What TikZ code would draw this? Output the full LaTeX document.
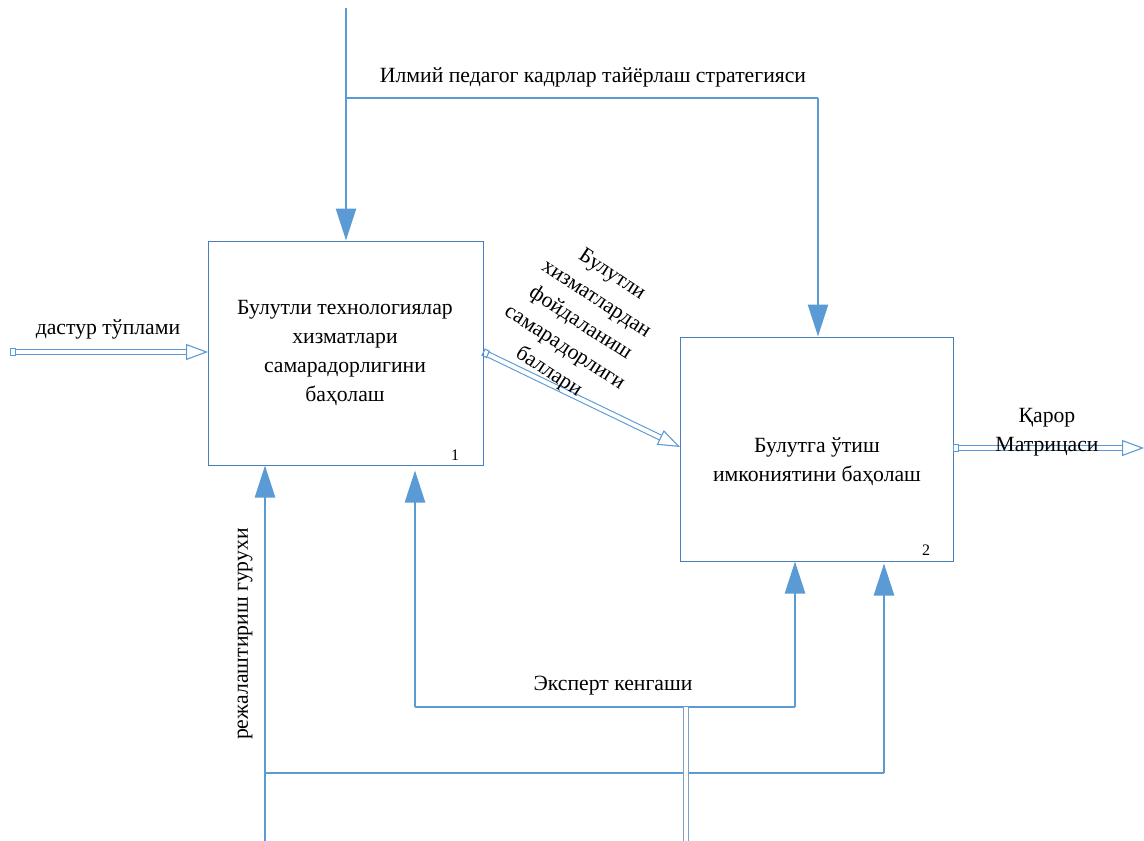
\documentclass[tikz,border=0pt]{standalone}
\usepackage{fontspec}
\setmainfont{Liberation Serif}
\usetikzlibrary{arrows.meta}
\definecolor{lblue}{HTML}{5B9BD5}
\definecolor{bblue}{HTML}{4A7EBB}
\definecolor{gblue}{HTML}{7F9FC4}
\tikzset{
  boxnode/.style={draw=bblue, line width=1pt, align=center, inner sep=0pt},
  lbl/.style={align=center, inner sep=0pt, font=\fontsize{21.7}{29}\selectfont},
  arrline/.style={draw=lblue, line width=2.6pt, -{Triangle[length=32pt,width=20pt]}},
  plainline/.style={draw=lblue, line width=1.8pt},
  dblline/.style={draw=lblue, line width=1.1pt, double=white, double distance=4pt,
     {Square[open,length=6pt,width=8pt]}-{Triangle[open,length=22pt,width=16pt,line width=1.1pt]}}
}
\begin{document}
\begin{tikzpicture}[x=1pt,y=-1pt]
\useasboundingbox (0,0) rectangle (1144,841);
% boxes
\node[boxnode, minimum width=275pt, minimum height=224pt] (b1) at (345.5,353) {};
\node[lbl] (b1t) at (345,353) {Булутли технологиялар\\хизматлари\\самарадорлигини\\баҳолаш};
\node[lbl] (n1) at (455,455) {\fontsize{16}{18}\selectfont 1};
\node[boxnode, minimum width=273pt, minimum height=224pt] (b2) at (816.5,449) {};
\node[lbl] (b2t) at (817,462) {Булутга ўтиш\\имкониятини баҳолаш};
\node[lbl] (n2) at (926,550) {\fontsize{16}{18}\selectfont 2};
% control
\coordinate (t0) at (346,8);
\coordinate (t1) at (346,98);
\coordinate (t2) at (818,98);
\draw[arrline] (t0) -- (t0 |- b1.north);
\draw[plainline] (t1) -- (t2);
\draw[arrline] (t2) -- (t2 |- b2.north);
\node[lbl] (ctl) at (593,77) {Илмий педагог кадрлар тайёрлаш стратегияси};
% input
\coordinate (in0) at (10,352);
\coordinate (in1) at (208,352);
\draw[dblline] (in0) -- (in1);
\node[lbl] (inl) at (108,329) {дастур тўплами};
% between
\coordinate (m0) at (483,352);
\coordinate (m1) at (680,447);
\draw[dblline] (m0) -- (m1);
\node[lbl, rotate=-33] (ml) at (580,324) {Булутли\\хизматлардан\\фойдаланиш\\самарадорлиги\\баллари};
% output
\coordinate (o0) at (953,448);
\coordinate (o1) at (1144,448);
\draw[dblline] (o0) -- (o1);
\node[lbl] (ol) at (1047,432) {Қарор\\Матрицаси};
% mechanisms
\coordinate (g0) at (265,841);
\coordinate (g1) at (265,773);
\coordinate (g2) at (884,773);
\draw[arrline] (g0) -- (g0 |- b1.south);
\draw[plainline] (g1) -- (g2);
\draw[arrline] (g2) -- ([yshift=-2pt]g2 |- b2.south);
\node[lbl, rotate=90] (gl) at (245,634) {режалаштириш гурухи};
\coordinate (e0) at (415,707);
\coordinate (e1) at (795,707);
\draw[arrline] (e0) -- ([yshift=-5pt]e0 |- b1.south);
\draw[plainline] (e0) -- (e1);
\draw[arrline] (e1) -- (e1 |- b2.south);
\node[lbl] (el) at (613,686) {Эксперт кенгаши};
\coordinate (d0) at (686,707);
\coordinate (d1) at (686,841);
\draw[draw=gblue, line width=1.6pt, double=white, double distance=3.5pt] (d0) -- (d1);
\end{tikzpicture}
\end{document}
